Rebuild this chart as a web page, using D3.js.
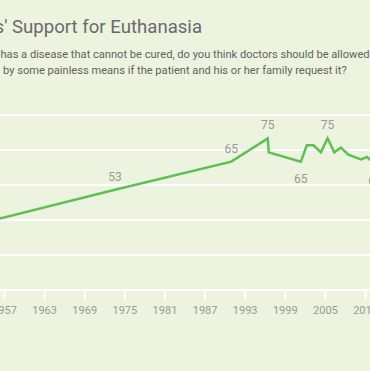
<!DOCTYPE html>
<html>
<head>
<meta charset="utf-8">
<script src="https://cdn.jsdelivr.net/npm/d3@7"></script>
<style>
  html, body { margin: 0; padding: 0; background: #ecf3de; overflow: hidden; }
  svg { display: block; font-family: Roboto, "Noto Sans", sans-serif; }
</style>
</head>
<body>
<svg id="chart"></svg>
<script>
// data (fractional years = poll dates)
const years = [1947, 1950, 1973.6, 1991, 1996.45, 1996.6, 2001.4, 2002.3, 2003.3, 2004.4, 2005.4, 2006.4, 2007.4, 2008.5, 2010.4, 2011.3, 2012.5]
const support = [37, 36, 53, 65, 75, 69, 65, 72, 72, 69, 75, 69, 71, 68, 66, 67, 64]

// which points carry a value label, and on which side
const labelYears = [1973.6, 1991, 1996.45, 2001.4, 2005.4, 2012.5]
const labelSide = ["above", "above", "above", "below", "above", "below"]

const tickYears = [1945, 1951, 1957, 1963, 1969, 1975, 1981, 1987, 1993, 1999, 2005, 2011, 2017]
const gridValues = [10, 25, 40, 55, 70, 85]

const titleText = "Americans' Support for Euthanasia"
const questionPrefix = "When a person "
const questionLine1 = "has a disease that cannot be cured, do you think doctors should be allowed by law to end the patient's life"
const questionLine2 = "by some painless means if the patient and his or her family request it?"

let width = 370
let height = 371

let svg = d3.select("#chart")
    .attr("width", width)
    .attr("height", height)

let x = d3.scaleLinear().domain([1957, 2011]).range([4, 365])
let y = d3.scaleLinear().domain([10, 85]).range([290, 115])

// title + question
svg.append("text")
    .attr("x", 202)
    .attr("y", 33.3)
    .attr("text-anchor", "end")
    .style("font-size", "18.6px")
    .style("fill", "#6a6a6a")
    .text(titleText)

let q1 = svg.append("text")
    .attr("y", 58)
    .style("font-size", "11.1px")
    .style("fill", "#626262")
q1.append("tspan").text(questionPrefix)
q1.append("tspan").text(questionLine1)
// shift so "has" starts at the left edge like in the picture
let hasPos = q1.node().getStartPositionOfChar(questionPrefix.length).x
q1.attr("x", 0.5 - hasPos)

svg.append("text")
    .attr("x", 346.7)
    .attr("y", 73.5)
    .attr("text-anchor", "end")
    .style("font-size", "11.1px")
    .style("fill", "#626262")
    .text(questionLine2)

// gridlines
svg.selectAll(".grid")
    .data(gridValues)
    .enter()
    .append("line")
    .attr("x1", -50)
    .attr("x2", width + 50)
    .attr("y1", d => y(d))
    .attr("y2", d => y(d))
    .style("stroke", "#fff")
    .style("stroke-width", 2)

// x axis ticks + labels
let axis = d3.axisBottom(x)
    .tickValues(tickYears)
    .tickFormat(d3.format("d"))
    .tickSize(10)
    .tickPadding(6)

let gx = svg.append("g")
    .attr("transform", "translate(0," + y(10) + ")")
    .call(axis)
gx.select(".domain").remove()
gx.selectAll(".tick line").style("stroke", "#fff").style("stroke-width", 2)
gx.selectAll(".tick text")
    .style("font-family", "Roboto, sans-serif")
    .style("font-size", "11px")
    .style("fill", "#9a9a9a")

// the trend line
let points = years.map((yr, i) => ({ year: yr, value: support[i] }))

let line = d3.line()
    .x(d => x(d.year))
    .y(d => y(d.value))

svg.append("path")
    .datum(points)
    .attr("d", line)
    .style("fill", "none")
    .style("stroke", "#5ec052")
    .style("stroke-width", 2.5)
    .style("stroke-linejoin", "miter")

// value labels
let labelled = labelYears.map((yr, i) => ({
    year: yr,
    value: support[years.indexOf(yr)],
    side: labelSide[i]
}))

svg.selectAll(".vlabel")
    .data(labelled)
    .enter()
    .append("text")
    .attr("x", d => x(d.year))
    .attr("y", d => d.side == "above" ? y(d.value) - 9 : y(d.value) + 21)
    .attr("text-anchor", "middle")
    .style("font-size", "12px")
    .style("fill", "#999")
    .text(d => d.value)
</script>
</body>
</html>
